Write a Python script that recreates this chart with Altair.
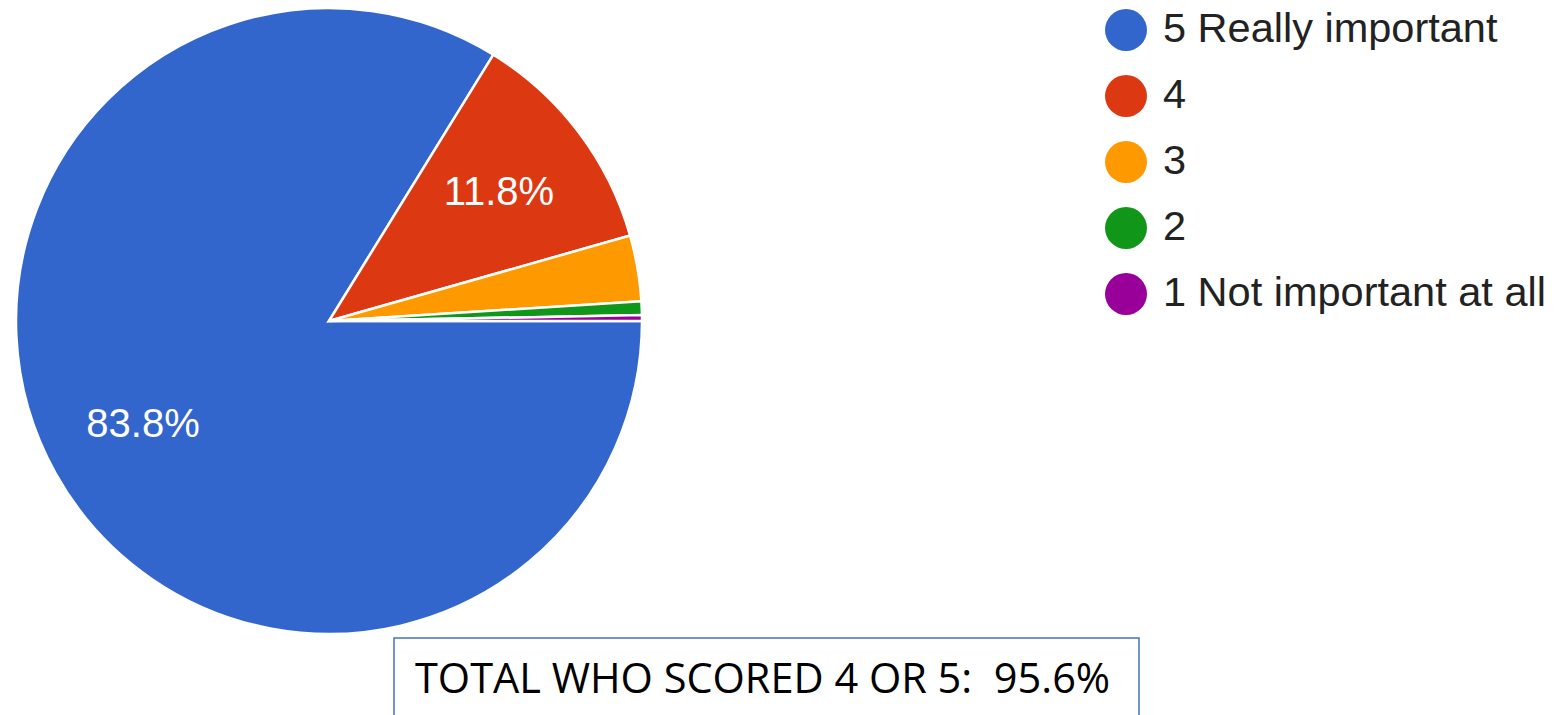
import math
import altair as alt
import pandas as pd

# ---- data ----
categories = ["5 Really important", "4", "3", "2", "1 Not important at all"]
values = [83.8, 11.8, 3.4, 0.7, 0.3]
colors = ["#3366CC", "#DC3912", "#FF9900", "#109618", "#990099"]
slice_labels = ["83.8%", "11.8%", "", "", ""]
box_text = ["TOTAL WHO SCORED 4 OR 5: \u00a095.6%"]

df = pd.DataFrame({
    "category": categories,
    "value": values,
    "order": list(range(len(categories))),
    "label": slice_labels,
})
box_df = pd.DataFrame({"text": box_text})

CX, CY, R = 321, 307, 313

theta = alt.Theta(
    "value:Q", stack=True,
    scale=alt.Scale(range=[math.pi / 2, math.pi / 2 + 2 * math.pi]),
)
color = alt.Color(
    "category:N",
    scale=alt.Scale(domain=categories, range=colors),
    sort=categories,
    legend=alt.Legend(
        title=None, orient="none", legendX=1097, legendY=-5,
        symbolType="circle", symbolSize=1764, symbolStrokeWidth=0,
        labelFontSize=41.5, labelFont="Liberation Sans", labelColor="#222222",
        labelOffset=16, rowPadding=24, padding=0, labelLimit=600,
    ),
)

arcs = alt.Chart(df).mark_arc(radius=R, stroke="white", strokeWidth=2.5).encode(
    theta=theta,
    color=color,
    order=alt.Order("order:Q"),
    x=alt.value(CX), y=alt.value(CY),
)

labels = alt.Chart(df).mark_text(
    radius=213, fontSize=40, font="Liberation Sans", color="white"
).encode(
    theta=theta,
    order=alt.Order("order:Q"),
    text="label:N",
    x=alt.value(CX), y=alt.value(CY),
)

box = alt.Chart(box_df).mark_rect(
    fill="white", stroke="#4472C4", strokeWidth=1.5
).encode(
    x=alt.value(386), x2=alt.value(1131), y=alt.value(624), y2=alt.value(720),
)

box_label = alt.Chart(box_df).mark_text(
    align="left", baseline="alphabetic", fontSize=41.5, font="Open Sans",
    color="black",
).encode(
    text="text:N", x=alt.value(407), y=alt.value(679),
)

chart = alt.layer(arcs, labels, box, box_label).properties(
    width=1543, height=701,
    padding={"left": 0, "top": 6, "right": 0, "bottom": 0},
    autosize=alt.AutoSizeParams(type="none"),
).configure_view(stroke=None)

chart.save("out.html", embed_options={"renderer": "svg", "actions": False})
